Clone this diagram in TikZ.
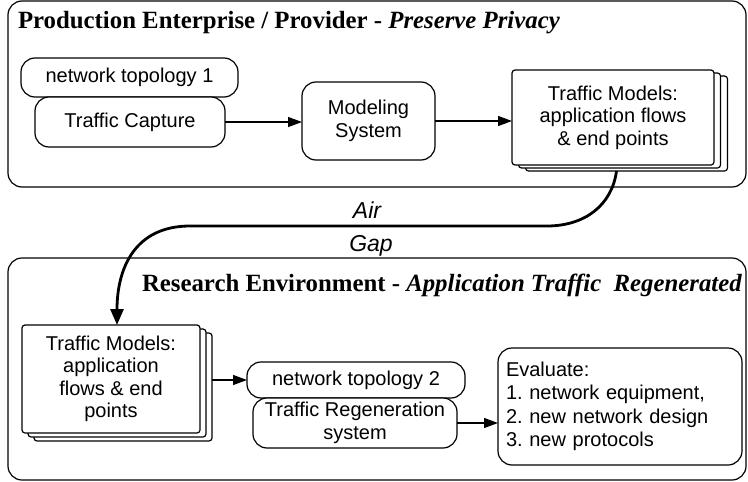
\documentclass[tikz,border=0pt]{standalone}
\usepackage{fontspec}
\setmainfont{Liberation Sans}
\newfontfamily\timesfont{Liberation Serif}
\usetikzlibrary{arrows.meta,calc}
\frenchspacing
\begin{document}
\begin{tikzpicture}[x=1pt,y=-1pt,
  every node/.style={inner sep=0pt, outer sep=0pt},
  frame/.style={draw, line width=1.2pt, rounded corners=14pt},
  rbox/.style={draw, line width=1.2pt, fill=white, rounded corners=14pt,
    align=center, font=\fontsize{20}{23}\selectfont},
  sheet/.style={draw, line width=1.2pt, fill=white, rounded corners=3pt,
    align=center, font=\fontsize{20}{22.5}\selectfont},
  heading/.style={anchor=base west, font=\timesfont\bfseries\fontsize{24.8}{26}\selectfont},
  gaplabel/.style={anchor=base, font=\itshape\fontsize{23}{26}\selectfont},
  flow/.style={-{Triangle[length=14pt,width=10pt]}, line width=1.2pt},
  gapflow/.style={-{Triangle[length=16pt,width=13pt]}, line width=2.8pt},
]
\useasboundingbox (0,0) rectangle (748,482);

% ---------- production side ----------
\node[frame, minimum width=738pt, minimum height=186pt] (prod) at (377,94) {};
\node[heading] (prodtitle) at (18,28) {Production Enterprise / Provider - \textit{Preserve Privacy}};

\node[rbox, minimum width=217pt, minimum height=39pt] (topo1) at (129.5,77.5) {network topology 1};
\node[rbox, minimum width=190pt, minimum height=50pt] (capture) at (130,122) {Traffic Capture};
\node[rbox, minimum width=133pt, minimum height=78pt] (modeling) at (368.5,121) {Modeling\\System};

% stacked model sheets
\node[sheet, minimum width=202pt, minimum height=95pt] (tm1c) at (626.5,123.5) {};
\node[sheet, minimum width=202pt, minimum height=95pt] (tm1b) at (619.5,120.5) {};
\node[sheet, minimum width=202pt, minimum height=95pt] (tm1) at (613,117.5)
  {Traffic Models:\\application flows\\\& end points};

\draw[flow] (capture.east) -- (capture.east -| modeling.west);
\draw[flow] (modeling.east) -- (modeling.east -| tm1.west);

% ---------- research side ----------
\node[frame, minimum width=738pt, minimum height=222pt] (research) at (377,369) {};
\node[heading] (restitle) at (142,291) {Research Environment - \textit{Application Traffic\ \ Regenerated}};

\node[sheet, minimum width=178pt, minimum height=108pt] (tm2c) at (123,387) {};
\node[sheet, minimum width=178pt, minimum height=108pt] (tm2b) at (117,383) {};
\node[sheet, minimum width=178pt, minimum height=108pt] (tm2) at (111,379)
  {Traffic Models:\\application\\flows \& end\\points};

\node[rbox, minimum width=218pt, minimum height=36pt] (topo2) at (356,380) {network topology 2};
\node[rbox, minimum width=204pt, minimum height=50pt] (regen) at (355,423) {Traffic Regeneration\\system};
\node[rbox, minimum width=244pt, minimum height=117pt, text width=228pt, align=left,
  font=\fontsize{20}{23.5}\selectfont] (eval) at (620,406.5)
  {Evaluate:\\1. network equipment,\\2. new network design\\3. new protocols};

\draw[flow] (topo2.west -| tm2c.east) -- (topo2.west);
\draw[flow] (regen.east) -- (regen.east -| eval.west);

% ---------- air gap transfer ----------
\coordinate (bendR) at (547,226);
\coordinate (bendL) at (190,226);
\draw[gapflow] ([xshift=-10pt]tm1c.south) .. controls (612,205) and (585,226) .. (bendR)
  -- (bendL) .. controls (135,226) and (117,268) .. ([xshift=6pt]tm2.north);

\node[gaplabel] (air) at (367,218) {Air};
\node[gaplabel] (gap) at (371,251) {Gap};
\end{tikzpicture}
\end{document}
